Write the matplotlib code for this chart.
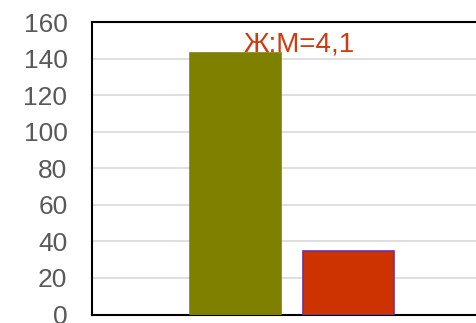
import matplotlib.pyplot as plt

# --- Data ---
series = ["Ж", "М"]
values = [143, 35]
colors = ["#808000", "#CC3300"]
edges = ["#808000", "#7030A0"]
ratio_label = "Ж:М=4,1"

plt.rcParams["font.family"] = ["Liberation Sans", "DejaVu Sans"]

fig = plt.figure(figsize=(4.77, 3.23), dpi=100)
ax = fig.add_axes([92.5 / 477, 8.5 / 323, 399 / 477, 292.5 / 323])

width = 0.228
offsets = [-0.142, 0.142]
for off, v, c, e in zip(offsets, values, colors, edges):
    ax.bar(off, v, width=width, color=c, edgecolor=e, linewidth=1.2, zorder=3)

ax.text(0.017, 144, ratio_label, color="#D03A10", fontsize=20,
        ha="center", va="baseline", zorder=4)

ax.set_xlim(-0.5, 0.5)
ax.set_ylim(0, 160)
ax.set_yticks(range(0, 161, 20))
ax.set_xticks([])
ax.yaxis.grid(True, color="#D9D9D9", linewidth=1.2, zorder=0)
ax.set_axisbelow(True)
ax.tick_params(axis="y", length=0, pad=18, labelsize=19, labelcolor="#595959")

for s in ["left", "top", "bottom"]:
    ax.spines[s].set_color("black")
    ax.spines[s].set_linewidth(1.5)
ax.spines["right"].set_visible(False)

fig.savefig("out.png", dpi=100)
